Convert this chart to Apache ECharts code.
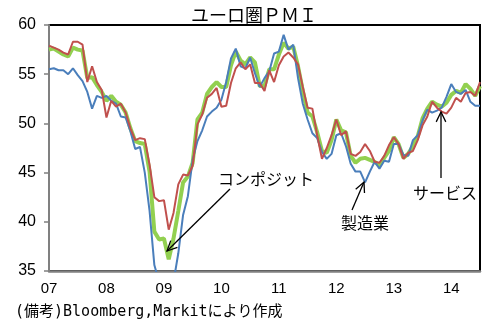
<!DOCTYPE html>
<html><head><meta charset="utf-8">
<script src="https://cdn.jsdelivr.net/npm/echarts@6/dist/echarts.min.js"></script>
<style>html,body{margin:0;padding:0;background:#fff}#c{width:491px;height:320px}</style>
</head><body><div id="c"></div>
<script>
// Months Jan 2007 .. Jul 2014
const years = [2007,2008,2009,2010,2011,2012,2013,2014];
const lastMonthOfLastYear = 7;
const yearTickLabels = ['07','08','09','10','11','12','13','14'];

// Composite PMI (green)
const composite = [
  57.5,57.6,57.3,57.0,56.8,57.7,57.5,57.4,54.6,54.7,53.9,53.2,
  52.3,52.8,52.2,51.9,51.1,49.5,48.2,48.0,47.9,45.1,39.0,38.2,
  38.3,36.2,38.3,41.1,44.0,44.6,46.0,50.4,51.1,53.0,53.7,54.2,
  53.7,53.7,55.9,57.3,56.4,56.0,56.7,56.2,53.8,53.8,55.5,55.5,
  57.0,58.2,57.6,57.8,55.8,53.3,51.1,50.7,49.1,47.2,47.0,48.3,
  50.4,49.3,49.1,46.7,46.0,46.4,46.5,46.3,46.1,45.7,46.5,47.2,
  48.6,47.9,46.5,46.9,47.7,48.7,50.5,51.5,52.2,51.9,51.7,52.1,
  52.9,53.3,53.1,54.0,53.5,52.8,53.8
];
// Manufacturing PMI (blue)
const manufacturing = [
  55.5,55.6,55.4,55.4,55.0,55.6,54.9,54.3,53.2,51.5,52.8,52.6,
  52.8,52.3,52.0,50.7,50.6,49.2,47.4,47.6,45.0,41.1,35.6,33.9,
  34.4,33.5,33.9,36.8,40.7,42.6,46.3,48.2,49.3,50.7,51.2,51.6,
  52.4,54.2,56.6,57.6,55.8,55.6,56.7,55.1,53.7,54.6,55.3,57.1,
  57.3,59.0,57.5,58.0,54.6,52.0,50.4,49.0,48.5,47.1,46.4,46.9,
  48.8,49.0,47.7,45.9,45.1,45.1,44.0,45.1,46.1,45.4,46.2,46.1,
  47.9,47.9,46.8,46.7,48.3,48.8,50.3,51.4,51.1,51.3,51.6,52.7,
  54.0,53.2,53.0,53.4,52.2,51.8,51.8
];
// Services PMI (red)
const services = [
  57.9,57.7,57.5,57.2,57.0,58.3,58.3,58.0,54.2,55.8,54.2,53.4,
  50.6,52.3,51.7,52.0,51.1,49.5,48.3,48.5,48.4,45.8,42.5,42.1,
  42.2,39.2,40.9,43.8,44.8,44.7,45.7,49.9,50.9,52.6,53.0,53.6,
  51.7,51.8,54.1,55.6,56.2,55.5,56.0,54.1,54.1,53.3,55.4,54.2,
  55.9,56.8,57.2,56.7,56.0,53.7,51.6,51.5,48.8,46.4,47.5,48.8,
  50.4,48.8,49.2,46.9,46.7,47.1,47.9,47.2,46.1,46.0,46.7,47.8,
  48.6,47.9,46.4,47.0,47.2,48.3,49.8,50.7,52.2,51.6,51.2,51.0,
  51.6,52.6,52.2,53.1,53.2,52.8,54.2
];

const categories = [];
years.forEach((y, yi) => {
  const n = (yi === years.length - 1) ? lastMonthOfLastYear : 12;
  for (let m = 1; m <= n; m++) categories.push(y + '-' + String(m).padStart(2, '0'));
});

function arrow(x1, y1, x2, y2) {
  const ang = Math.atan2(y1 - y2, x1 - x2), L = 11, a = 0.45;
  const w1 = [x2 + L * Math.cos(ang + a), y2 + L * Math.sin(ang + a)];
  const w2 = [x2 + L * Math.cos(ang - a), y2 + L * Math.sin(ang - a)];
  return [
    {type: 'line', shape: {x1, y1, x2, y2}, style: {stroke: '#000', lineWidth: 1.3}, z: 100},
    {type: 'polyline', shape: {points: [w1, [x2, y2], w2]}, style: {stroke: '#000', fill: null, lineWidth: 1.3}, z: 100}
  ];
}
const jp = '"Noto Sans CJK JP", sans-serif';

const chart = echarts.init(document.getElementById('c'), null, {renderer: 'canvas'});
chart.setOption({
  animation: false,
  backgroundColor: '#fff',
  grid: {left: 49, right: 11, top: 25, bottom: 49, show: true, borderColor: '#000', borderWidth: 2, backgroundColor: 'transparent'},
  xAxis: {
    type: 'category', data: categories, boundaryGap: false,
    axisLine: {show: true, lineStyle: {color: '#808080', width: 2.5}},
    axisTick: {show: false},
    axisLabel: {
      interval: (i, v) => v.endsWith('-01'),
      formatter: v => yearTickLabels[years.indexOf(+v.slice(0, 4))],
      color: '#000', fontSize: 15, fontFamily: '"Liberation Sans", Arial, sans-serif', margin: 10
    },
    splitLine: {show: false}
  },
  yAxis: {
    type: 'value', min: 35, max: 60, interval: 5,
    axisLine: {show: true, lineStyle: {color: '#808080', width: 2}},
    axisTick: {show: true, length: 5, lineStyle: {color: '#808080', width: 1.5}},
    axisLabel: {color: '#000', fontSize: 16, fontFamily: '"Liberation Sans", Arial, sans-serif', margin: 13},
    splitLine: {show: false}
  },
  series: [
    {name: 'コンポジット', type: 'line', data: composite, symbol: 'none', clip: true,
     lineStyle: {color: '#92D050', width: 4}, z: 2},
    {name: '製造業', type: 'line', data: manufacturing, symbol: 'none', clip: true,
     lineStyle: {color: '#4A7EBB', width: 2}, z: 3},
    {name: 'サービス', type: 'line', data: services, symbol: 'none', clip: true,
     lineStyle: {color: '#C0504D', width: 2}, z: 4}
  ],
  graphic: [
    {type: 'text', x: 191, y: 15, z: 100, style: {text: 'ユーロ圏ＰＭＩ', font: '18px ' + jp, fill: '#000', verticalAlign: 'middle'}},
    {type: 'text', x: 218, y: 179, z: 100, style: {text: 'コンポジット', font: '16px ' + jp, fill: '#000', verticalAlign: 'middle'}},
    {type: 'text', x: 365, y: 223, z: 100, style: {text: '製造業', font: '16px ' + jp, fill: '#000', align: 'center', verticalAlign: 'middle'}},
    {type: 'text', x: 445, y: 193, z: 100, style: {text: 'サービス', font: '16px ' + jp, fill: '#000', align: 'center', verticalAlign: 'middle'}},
    {type: 'text', x: 15, y: 312, z: 100, style: {text: '(備考)Bloomberg,Markitにより作成', font: '15px "DejaVu Sans Mono", ' + jp, fill: '#000', verticalAlign: 'middle'}},
    ...arrow(230, 189, 167, 251),
    ...arrow(352, 210, 364, 182),
    ...arrow(441, 178, 441, 112)
  ]
});
</script></body></html>
